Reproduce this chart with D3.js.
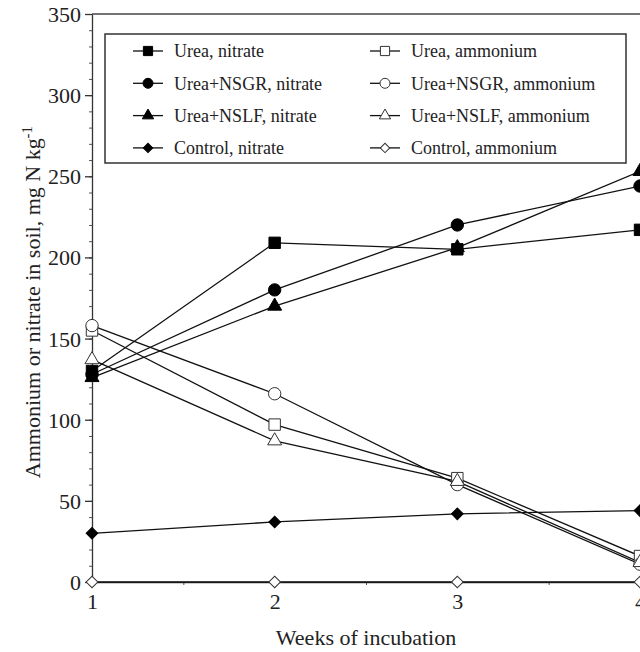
<!DOCTYPE html>
<html>
<head>
<meta charset="utf-8">
<script src="https://cdn.jsdelivr.net/npm/d3@7"></script>
<style>
  body { margin: 0; background: #fff; }
  svg, svg text { font-family: "Liberation Serif", "DejaVu Serif", serif; }
</style>
</head>
<body>
<div id="chart"></div>
<script>
// weeks of incubation
const weeks = [1, 2, 3, 4];

// nitrate series, mg N kg-1
const ureaNitrate = [130, 209, 205, 217];
const nsgrNitrate = [128, 180, 220, 244];
const nslfNitrate = [126, 170, 206, 253];
const controlNitrate = [30, 37, 42, 44];

// ammonium series, mg N kg-1
const ureaAmmonium = [155, 97, 64, 16];
const nsgrAmmonium = [158, 116, 60, 11];
const nslfAmmonium = [137, 87, 62, 12];
const controlAmmonium = [0, 0, 0, 0];

const yTicks = [0, 50, 100, 150, 200, 250, 300, 350];
const xTicks = [1, 2, 3, 4];

const series = [
    {name: "Urea, nitrate", values: ureaNitrate, shape: "square", filled: true},
    {name: "Urea+NSGR, nitrate", values: nsgrNitrate, shape: "circle", filled: true},
    {name: "Urea+NSLF, nitrate", values: nslfNitrate, shape: "triangle", filled: true},
    {name: "Control, nitrate", values: controlNitrate, shape: "diamond", filled: true},
    {name: "Urea, ammonium", values: ureaAmmonium, shape: "square", filled: false},
    {name: "Urea+NSGR, ammonium", values: nsgrAmmonium, shape: "circle", filled: false},
    {name: "Urea+NSLF, ammonium", values: nslfAmmonium, shape: "triangle", filled: false},
    {name: "Control, ammonium", values: controlAmmonium, shape: "diamond", filled: false}
];

const width = 640, height = 652;
const margin = {left: 92, right: 0, top: 14, bottom: 70};
const serif = '"Liberation Serif", "DejaVu Serif", serif';

const svg = d3.select("#chart").append("svg")
    .attr("width", width)
    .attr("height", height);

const x = d3.scaleLinear().domain([1, 4]).range([margin.left, width - margin.right]);
const y = d3.scaleLinear().domain([0, 350]).range([height - margin.bottom, margin.top]);

function symbolPath(shape, big) {
    const k = big ? 1 : 0.65;
    if (shape === "square") return d3.symbol(d3.symbolSquare, 130 * k)();
    if (shape === "circle") return d3.symbol(d3.symbolCircle, 120 * k)();
    if (shape === "triangle") return d3.symbol(d3.symbolTriangle, 85 * k)();
    return d3.symbol(d3.symbolSquare, 68 * k)();
}

function symbolRotate(shape) {
    return shape === "diamond" ? " rotate(45)" : "";
}

// frame top
svg.append("line")
    .attr("x1", x(1)).attr("x2", width)
    .attr("y1", y(350)).attr("y2", y(350))
    .style("stroke", "#444").style("stroke-width", 1.5);

// minor y ticks
svg.append("g")
    .attr("transform", `translate(${x(1)},0)`)
    .call(d3.axisLeft(y).tickValues(d3.range(0, 351, 10)).tickSize(3).tickFormat(""))
    .call(g => g.select(".domain").remove())
    .selectAll("line").style("stroke", "#555");

// y axis
svg.append("g")
    .attr("class", "y axis")
    .attr("transform", `translate(${x(1)},0)`)
    .call(d3.axisLeft(y).tickValues(yTicks).tickSize(7).tickSizeOuter(0).tickPadding(4))
    .attr("font-family", serif)
    .call(g => g.selectAll("text").style("font-size", "22px").style("fill", "#222").attr("dy", "0.34em"))
    .call(g => g.selectAll("line, path").style("stroke", "#333").style("stroke-width", 1.3));

// minor x ticks
svg.append("g")
    .attr("transform", `translate(0,${y(0)})`)
    .call(d3.axisBottom(x).tickValues([1.5, 2.5, 3.5]).tickSize(3).tickFormat(""))
    .call(g => g.select(".domain").remove())
    .selectAll("line").style("stroke", "#555");

// x axis
svg.append("g")
    .attr("class", "x axis")
    .attr("transform", `translate(0,${y(0)})`)
    .call(d3.axisBottom(x).tickValues(xTicks).tickSize(0).tickSizeOuter(0).tickPadding(11).tickFormat(d3.format("d")))
    .attr("font-family", serif)
    .call(g => g.selectAll("text").style("font-size", "22px").style("fill", "#222"))
    .call(g => g.selectAll("line, path").style("stroke", "#333").style("stroke-width", 1.3));

// axis titles
svg.append("text")
    .attr("x", (x(1) + x(4)) / 2)
    .attr("y", 645)
    .attr("text-anchor", "middle")
    .style("font-size", "22px")
    .style("fill", "#222")
    .text("Weeks of incubation");

const yTitle = svg.append("text")
    .attr("transform", `translate(40,${(y(0) + y(350)) / 2 + 4}) rotate(-90)`)
    .attr("text-anchor", "middle")
    .style("font-size", "22px")
    .style("fill", "#222");
yTitle.append("tspan").text("Ammonium or nitrate in soil, mg N kg");
yTitle.append("tspan").attr("dy", "-0.55em").style("font-size", "15px").text("-1");

// lines
const valueline = d3.line()
    .x((d, i) => x(weeks[i]))
    .y(d => y(d));

svg.selectAll(".line")
    .data(series)
    .enter().append("path")
    .attr("class", "line")
    .attr("d", d => valueline(d.values))
    .style("fill", "none")
    .style("stroke", "#111")
    .style("stroke-width", 1.3);

// markers
series.forEach(s => {
    svg.selectAll(null)
        .data(s.values)
        .enter().append("path")
        .attr("d", symbolPath(s.shape, true))
        .attr("transform", (d, i) => `translate(${x(weeks[i])},${y(d)})` + symbolRotate(s.shape))
        .style("fill", s.filled ? "#000" : "#fff")
        .style("stroke", s.filled ? "#000" : "#333")
        .style("stroke-width", 1);
});

// legend
const legend = svg.append("g");
legend.append("rect")
    .attr("x", 105).attr("y", 34)
    .attr("width", 521).attr("height", 129)
    .style("fill", "#fff")
    .style("stroke", "#333")
    .style("stroke-width", 1.5);

const item = legend.selectAll(".item")
    .data(series)
    .enter().append("g")
    .attr("class", "item")
    .attr("transform", (d, i) => `translate(${i < 4 ? 148 : 385},${51 + (i % 4) * 32.3})`);

item.append("line")
    .attr("x1", -15).attr("x2", 15)
    .style("stroke", "#111").style("stroke-width", 1.3);

item.append("path")
    .attr("d", d => symbolPath(d.shape, false))
    .attr("transform", d => symbolRotate(d.shape).trim())
    .style("fill", d => d.filled ? "#000" : "#fff")
    .style("stroke", d => d.filled ? "#000" : "#333")
    .style("stroke-width", 1);

item.append("text")
    .attr("x", 26)
    .attr("dy", "0.35em")
    .style("font-size", "18px")
    .style("fill", "#222")
    .text(d => d.name);
</script>
</body>
</html>
